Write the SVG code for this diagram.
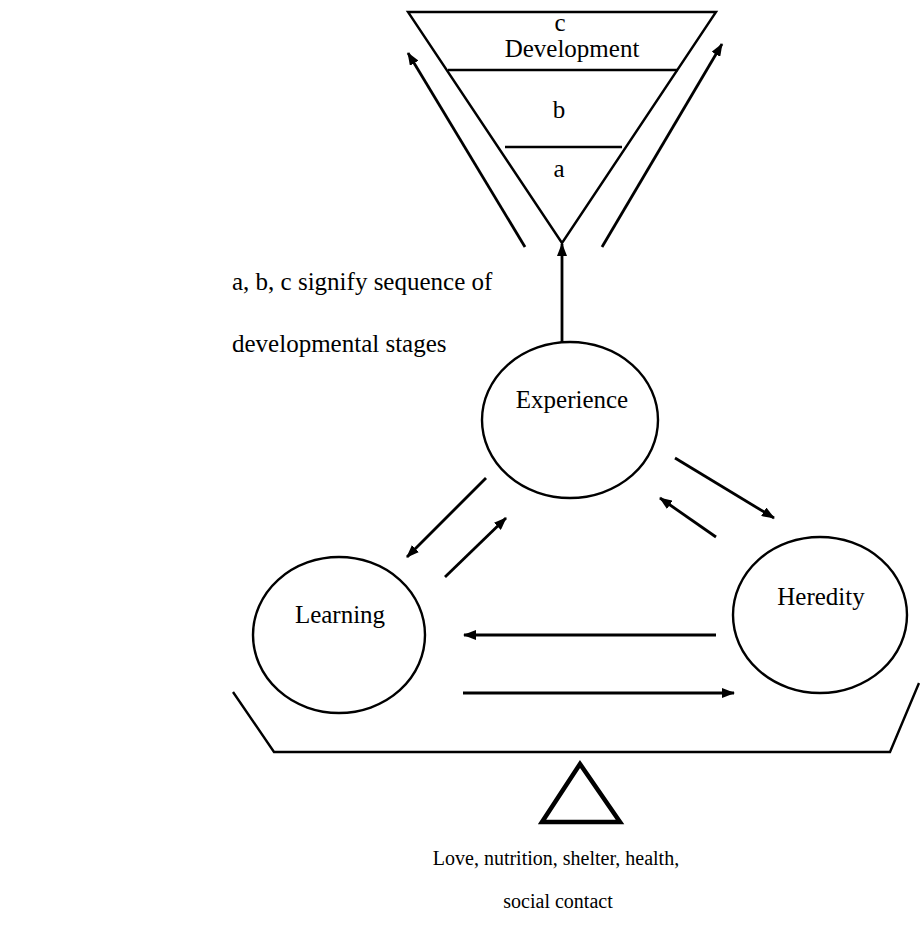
<svg xmlns="http://www.w3.org/2000/svg" width="920" height="931" viewBox="0 0 920 931">
<style>
text{font-family:"Liberation Serif","Times New Roman",serif;fill:#000}
.lbl{font-size:25px;text-anchor:middle}
.note{font-size:25px}
.foot{font-size:20px;text-anchor:middle}
.shape{fill:none;stroke:#000;stroke-width:2.4}
.conn{fill:none;stroke:#000;stroke-width:2.8}
</style>
<defs>
<marker id="ah" markerUnits="userSpaceOnUse" markerWidth="13" markerHeight="10" refX="12" refY="5" orient="auto">
<path d="M0,0 L13,5 L0,10 z" fill="#000"/>
</marker>
</defs>
<rect width="920" height="931" fill="#fff"/>

<g id="development">
<polygon class="shape" points="408,12 716,12 562,243" stroke-width="2.8"/>
<line class="shape" x1="448" y1="70" x2="678" y2="70"/>
<line class="shape" x1="505" y1="147" x2="622" y2="147"/>
<text class="lbl" x="560" y="31" font-size="18">c</text>
<text class="lbl" x="572" y="57">Development</text>
<text class="lbl" x="559" y="118">b</text>
<text class="lbl" x="559" y="177">a</text>
</g>

<g id="legend">
<text class="note" x="232" y="290">a, b, c signify sequence of</text>
<text class="note" x="232" y="352">developmental stages</text>
</g>

<g id="experience">
<ellipse class="shape" cx="570" cy="420" rx="88" ry="78"/>
<text class="lbl" x="572" y="408">Experience</text>
</g>

<g id="learning">
<ellipse class="shape" cx="339" cy="635" rx="86" ry="78"/>
<text class="lbl" x="340" y="623">Learning</text>
</g>

<g id="heredity">
<ellipse class="shape" cx="820" cy="615" rx="87" ry="78"/>
<text class="lbl" x="821" y="605">Heredity</text>
</g>

<g id="platform">
<polyline class="shape" points="233,692 274,752 890,752 919,683" stroke-width="2.6"/>
</g>

<g id="fulcrum">
<polygon points="580,764 542,822 620,822" fill="none" stroke="#000" stroke-width="4.5"/>
<text class="foot" x="556" y="865">Love, nutrition, shelter, health,</text>
<text class="foot" x="558" y="908">social contact</text>
</g>

<g id="connectors">
<line class="conn" x1="562" y1="342" x2="562" y2="244" marker-end="url(#ah)"/>
<line class="conn" x1="525" y1="247" x2="408" y2="53" marker-end="url(#ah)"/>
<line class="conn" x1="602" y1="247" x2="722" y2="44" marker-end="url(#ah)"/>
<line class="conn" x1="486" y1="478" x2="407" y2="557" marker-end="url(#ah)"/>
<line class="conn" x1="445" y1="577" x2="506" y2="518" marker-end="url(#ah)"/>
<line class="conn" x1="675" y1="458" x2="774" y2="518" marker-end="url(#ah)"/>
<line class="conn" x1="716" y1="537" x2="660" y2="498" marker-end="url(#ah)"/>
<line class="conn" x1="716" y1="635" x2="464" y2="635" marker-end="url(#ah)"/>
<line class="conn" x1="463" y1="693" x2="734" y2="693" marker-end="url(#ah)"/>
</g>
</svg>
